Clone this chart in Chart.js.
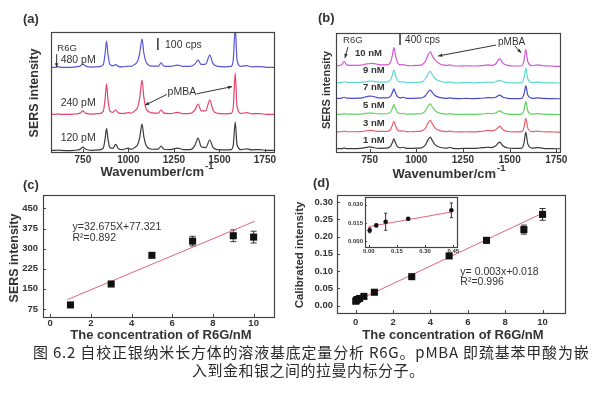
<!DOCTYPE html>
<html>
<head>
<meta charset="utf-8">
<script src="https://cdn.jsdelivr.net/npm/chart.js@4.4.1/dist/chart.umd.min.js"></script>
<style>
  body { margin: 0; background: #fff; width: 600px; height: 400px; position: relative; overflow: hidden; }
  canvas { position: absolute; }
  .cap { position: absolute; font-family: "Noto Sans CJK SC", sans-serif; font-size: 15px; color: #2a2a2a; white-space: nowrap; line-height: 20px; }
</style>
</head>
<body>
<canvas id="ca" width="300" height="178" style="left:0;top:0"></canvas>
<canvas id="cb" width="300" height="178" style="left:300px;top:0"></canvas>
<canvas id="cc" width="300" height="165" style="left:0;top:178px"></canvas>
<canvas id="cd" width="315" height="165" style="left:285px;top:178px"></canvas>
<canvas id="ce" width="125" height="65" style="left:340px;top:190px"></canvas>
<div class="cap" style="left:33px;top:342px;letter-spacing:0.8px">图 6.2 自校正银纳米长方体的溶液基底定量分析 R6G。pMBA 即巯基苯甲酸为嵌</div>
<div class="cap" style="left:192px;top:360px;letter-spacing:0.5px">入到金和银之间的拉曼内标分子。</div>
<script>
// wavenumber sampling shared by all spectra (cm-1)
const wn = [575, 600, 614, 628, 660, 700, 735, 750, 765, 800, 840, 862, 872, 880, 888, 898, 915, 930, 945, 970,
  1000, 1015, 1035, 1050, 1062, 1075, 1085, 1100, 1130, 1165, 1180, 1195, 1230, 1270, 1300, 1340, 1365, 1383, 1400,
  1425, 1447, 1465, 1490, 1530, 1565, 1577, 1587, 1597, 1620, 1650, 1680, 1720, 1760, 1800];
const wnTicks = [750, 1000, 1250, 1500, 1750];

// (a) intensities above each baseline, cps
const a120 = [6, 5, 8, 5, 4, 6, 14, 33, 15, 6, 10, 25, 100, 190, 100, 30, 22, 55, 20, 12,
  25, 14, 30, 50, 110, 225, 120, 40, 15, 16, 42, 15, 12, 25, 12, 12, 45, 108, 35,
  28, 92, 30, 12, 10, 12, 60, 242, 50, 12, 18, 10, 12, 6, 5];
const a240 = [8, 6, 10, 6, 5, 8, 16, 35, 16, 8, 12, 30, 130, 258, 130, 35, 22, 42, 18, 12,
  20, 15, 35, 60, 140, 292, 150, 45, 18, 16, 42, 16, 12, 22, 12, 14, 40, 92, 35,
  35, 125, 40, 14, 10, 14, 80, 350, 70, 14, 20, 10, 12, 6, 5];
const a480 = [5, 6, 12, 6, 6, 8, 16, 33, 16, 8, 12, 28, 115, 225, 115, 32, 18, 28, 14, 10,
  15, 14, 30, 55, 120, 242, 125, 42, 16, 16, 42, 16, 14, 24, 14, 14, 32, 67, 30,
  32, 108, 36, 14, 10, 14, 80, 340, 66, 14, 20, 10, 12, 6, 5];
const aNames = ['120 pM', '240 pM', '480 pM'];
const aOffsets = [8, 308, 700];

// (b) intensities above each baseline, cps
const b1 = [10, 15, 30, 15, 15, 25, 55, 70, 55, 25, 30, 90, 220, 340, 220, 90, 40, 60, 25, 20,
  30, 30, 60, 150, 300, 400, 300, 150, 50, 30, 60, 25, 15, 25, 20, 35, 50, 60, 50,
  100, 235, 100, 35, 20, 30, 200, 570, 180, 30, 50, 25, 15, 10, 10];
const b3 = [15, 20, 40, 20, 20, 25, 55, 70, 60, 30, 35, 95, 240, 370, 240, 95, 40, 55, 25, 20,
  30, 30, 60, 150, 300, 400, 300, 150, 50, 25, 45, 20, 15, 20, 15, 30, 45, 70, 50,
  90, 200, 90, 30, 15, 25, 170, 470, 150, 25, 40, 20, 15, 10, 10];
const b5 = [15, 20, 40, 20, 20, 25, 50, 60, 55, 30, 35, 90, 220, 340, 220, 90, 40, 50, 25, 20,
  30, 30, 55, 140, 280, 370, 280, 140, 50, 25, 40, 20, 15, 20, 15, 25, 35, 50, 40,
  60, 130, 60, 25, 15, 25, 160, 440, 140, 25, 40, 20, 15, 10, 10];
const b7 = [20, 30, 60, 30, 25, 30, 80, 100, 95, 40, 40, 90, 220, 340, 220, 90, 40, 60, 30, 20,
  30, 30, 50, 120, 230, 300, 230, 120, 45, 25, 40, 20, 15, 20, 15, 25, 35, 50, 40,
  60, 130, 60, 25, 15, 25, 160, 440, 140, 25, 40, 20, 15, 10, 10];
const b9 = [20, 30, 60, 30, 25, 30, 60, 70, 70, 40, 40, 110, 280, 440, 290, 110, 40, 50, 30, 20,
  30, 30, 60, 160, 300, 400, 300, 170, 60, 30, 50, 25, 15, 25, 15, 25, 30, 40, 30,
  50, 100, 50, 25, 15, 25, 180, 500, 160, 25, 40, 20, 15, 10, 10];
const b10 = [30, 60, 170, 60, 40, 50, 90, 100, 110, 70, 60, 150, 380, 640, 400, 160, 60, 70, 40, 30,
  40, 40, 80, 200, 380, 500, 380, 230, 80, 40, 60, 30, 20, 30, 20, 30, 40, 60, 40,
  90, 270, 110, 40, 20, 30, 200, 570, 180, 30, 60, 30, 20, 10, 10];
const bNames = ['1 nM', '3 nM', '5 nM', '7 nM', '9 nM', '10 nM'];
const bOffsets = [100, 660, 1250, 1780, 2310, 2870];

// (c) SERS intensity vs concentration
const cConc = [1, 3, 5, 7, 9, 10];
const cInt = [90, 168, 275, 328, 348, 343];
const cErr = [5, 5, 8, 18, 22, 22];
const cFitX = [0.85, 10.05];
const cFitY = [110, 402];
const cxTicks = [0, 2, 4, 6, 8, 10];
const cyTicks = [75, 150, 225, 300, 375, 450];

// (d) calibrated intensity vs concentration
const dConc = [0.005, 0.04, 0.09, 0.21, 0.44, 1, 3, 5, 7, 9, 10];
const dInt = [0.013, 0.016, 0.018, 0.021, 0.027, 0.039, 0.084, 0.144, 0.189, 0.220, 0.264];
const dErr = [0.003, 0.003, 0.003, 0.003, 0.003, 0.004, 0.003, 0.003, 0.007, 0.013, 0.017];
const dFitX = [0, 10.1];
const dFitY = [0.013, 0.27];
const dxTicks = [0, 2, 4, 6, 8, 10];
const dyTicks = [0, 0.05, 0.10, 0.15, 0.20, 0.25, 0.30];

// (d) inset, low concentrations
const eConc = [0.005, 0.04, 0.09, 0.21, 0.44];
const eInt = [0.009, 0.013, 0.016, 0.0185, 0.0254];
const eErr = [0.002, 0.001, 0.007, 0.001, 0.006];
const eFitX = [0, 0.44];
const eFitY = [0.012, 0.024];
const exTicks = [0, 0.15, 0.30, 0.45];
const eyTicks = [0, 0.015, 0.030];

Chart.defaults.font.family = '"Liberation Sans", Arial, sans-serif';
Chart.defaults.color = '#333';

const B = '"Liberation Sans", Arial, sans-serif';
const fixTicks = vals => s => { s.ticks = vals.map(v => ({ value: v })); };

// frame, inner ticks, error bars, labels and arrows
function decor(cfg) {
  return {
    id: 'decor',
    beforeDraw(chart) {
      if (!cfg.fill) return;
      const a = chart.chartArea, ctx = chart.ctx;
      ctx.save(); ctx.fillStyle = cfg.fill;
      ctx.fillRect(a.left, a.top, a.width, a.height);
      ctx.restore();
    },
    beforeDatasetsDraw(chart) {
      const ctx = chart.ctx, { x, y } = chart.scales;
      ctx.save();
      ctx.strokeStyle = '#333'; ctx.lineWidth = 1;
      chart.data.datasets.forEach(ds => {
        if (!ds.errs) return;
        ds.data.forEach((p, i) => {
          const px = x.getPixelForValue(p.x);
          const y1 = y.getPixelForValue(p.y - ds.errs[i]), y2 = y.getPixelForValue(p.y + ds.errs[i]);
          const c = cfg.cap || 2.5;
          ctx.beginPath();
          ctx.moveTo(px, y1); ctx.lineTo(px, y2);
          ctx.moveTo(px - c, y1); ctx.lineTo(px + c, y1);
          ctx.moveTo(px - c, y2); ctx.lineTo(px + c, y2);
          ctx.stroke();
        });
      });
      ctx.restore();
    },
    afterDraw(chart) {
      const ctx = chart.ctx, a = chart.chartArea, { x, y } = chart.scales;
      ctx.save();
      ctx.strokeStyle = '#444'; ctx.lineWidth = 1.2;
      ctx.strokeRect(Math.round(a.left) + 0.5, Math.round(a.top) + 0.5, Math.round(a.width), Math.round(a.height));
      ctx.lineWidth = 1;
      const tl = cfg.tick || 3;
      ctx.beginPath();
      x.ticks.forEach(t => {
        const px = Math.round(x.getPixelForValue(t.value)) + 0.5;
        ctx.moveTo(px, a.bottom); ctx.lineTo(px, a.bottom - tl);
      });
      if (y.options.display) {
        y.ticks.forEach(t => {
          const py = Math.round(y.getPixelForValue(t.value)) + 0.5;
          ctx.moveTo(a.left, py); ctx.lineTo(a.left + tl, py);
        });
      }
      ctx.stroke();

      (cfg.lines || []).forEach(l => {
        const x1 = x.getPixelForValue(l.x1), y1 = y.getPixelForValue(l.y1);
        const x2 = x.getPixelForValue(l.x2), y2 = y.getPixelForValue(l.y2);
        ctx.strokeStyle = '#333'; ctx.fillStyle = '#333'; ctx.lineWidth = l.w || 1;
        ctx.beginPath(); ctx.moveTo(x1, y1); ctx.lineTo(x2, y2); ctx.stroke();
        if (l.head) {
          const ang = Math.atan2(y2 - y1, x2 - x1), h = 4.5;
          ctx.beginPath();
          ctx.moveTo(x2, y2);
          ctx.lineTo(x2 - h * Math.cos(ang - 0.4), y2 - h * Math.sin(ang - 0.4));
          ctx.lineTo(x2 - h * Math.cos(ang + 0.4), y2 - h * Math.sin(ang + 0.4));
          ctx.closePath(); ctx.fill();
        }
      });

      (cfg.texts || []).forEach(t => {
        const X = t.px !== undefined ? t.px : x.getPixelForValue(t.x);
        const Y = t.py !== undefined ? t.py : y.getPixelForValue(t.y);
        ctx.save();
        ctx.translate(X, Y);
        if (t.rot) ctx.rotate(t.rot * Math.PI / 180);
        ctx.font = t.font;
        ctx.fillStyle = t.color || '#333';
        ctx.textBaseline = 'middle';
        ctx.textAlign = 'left';
        const w = ctx.measureText(t.t).width;
        let sw = 0;
        if (t.sup) { ctx.font = t.supFont; sw = ctx.measureText(t.sup).width + 1; ctx.font = t.font; }
        const x0 = t.align === 'center' ? -(w + sw) / 2 : 0;
        ctx.fillText(t.t, x0, 0);
        if (t.sup) { ctx.font = t.supFont; ctx.fillText(t.sup, x0 + w + 1, -6); }
        ctx.restore();
      });
      ctx.restore();
    }
  };
}

function spectrum(id, traces, offs, colors, xmin, xmax, ymax, pad, cfg) {
  return new Chart(document.getElementById(id), {
    type: 'line',
    data: {
      datasets: traces.map((tr, i) => ({
        data: wn.map((w, j) => ({ x: w, y: tr[j] + offs[i] })),
        borderColor: colors[i], borderWidth: 1.2, pointRadius: 0,
        cubicInterpolationMode: 'monotone', fill: false
      }))
    },
    options: {
      responsive: false, animation: false,
      layout: { padding: pad },
      plugins: { legend: { display: false }, tooltip: { enabled: false } },
      scales: {
        x: {
          type: 'linear', min: xmin, max: xmax,
          afterBuildTicks: fixTicks(wnTicks),
          afterFit: s => { s.height = 26; },
          border: { display: false }, grid: { display: false, drawTicks: false },
          ticks: { autoSkip: false, maxRotation: 0, padding: 2,
                   font: { size: 10, weight: 'bold' }, callback: v => v }
        },
        y: { display: false, min: 0, max: ymax }
      }
    },
    plugins: [decor(cfg)]
  });
}

// (a)
spectrum('ca', [a120, a240, a480], aOffsets, ['#3c3c3c', '#e2456b', '#5656d2'], 575, 1800, 1000,
  { left: 51, top: 32, right: 26, bottom: 0 }, {
    texts: [
      { t: '(a)', px: 23, py: 19, font: 'bold 13px ' + B },
      { t: 'SERS intensity', px: 35, py: 93, rot: -90, align: 'center', font: 'bold 12.5px ' + B },
      { t: 'Wavenumber/cm', px: 157, py: 172, align: 'center', font: 'bold 13px ' + B, sup: '-1', supFont: 'bold 9.5px ' + B },
      { t: 'R6G', x: 610, y: 866, font: '9.5px ' + B },
      { t: aNames[2], x: 628, y: 766, font: '10.5px ' + B },
      { t: aNames[1], x: 628, y: 408, font: '10.5px ' + B },
      { t: aNames[0], x: 628, y: 117, font: '10.5px ' + B },
      { t: '100 cps', x: 1201, y: 891, font: '10.5px ' + B },
      { t: 'pMBA', x: 1294, y: 500, align: 'center', font: '10.5px ' + B }
    ],
    lines: [
      { x1: 606, y1: 815, x2: 606, y2: 705, head: true },
      { x1: 1162, y1: 850, x2: 1162, y2: 950, w: 1.5 },
      { x1: 1212, y1: 480, x2: 1091, y2: 390, head: true },
      { x1: 1375, y1: 485, x2: 1570, y2: 545, head: true }
    ]
  });

// (b)
spectrum('cb', [b1, b3, b5, b7, b9, b10], bOffsets,
  ['#3c3c3c', '#e35f6c', '#5fd35f', '#4a4ac8', '#5fd9cf', '#d356d3'], 570, 1770, 4000,
  { left: 36, top: 33, right: 40, bottom: 0 }, {
    texts: [
      { t: '(b)', px: 18, py: 18, font: 'bold 13px ' + B },
      { t: 'SERS intensity', px: 27, py: 90, rot: -90, align: 'center', font: 'bold 11px ' + B },
      { t: 'Wavenumber/cm', px: 149, py: 174, align: 'center', font: 'bold 13px ' + B, sup: '-1', supFont: 'bold 9.5px ' + B },
      { t: 'R6G', x: 608, y: 3763, font: '9.5px ' + B },
      { t: bNames[5], x: 672, y: 3326, font: 'bold 9.5px ' + B },
      { t: bNames[4], x: 715, y: 2755, font: 'bold 9.5px ' + B },
      { t: bNames[3], x: 715, y: 2184, font: 'bold 9.5px ' + B },
      { t: bNames[2], x: 715, y: 1579, font: 'bold 9.5px ' + B },
      { t: bNames[1], x: 715, y: 974, font: 'bold 9.5px ' + B },
      { t: bNames[0], x: 715, y: 403, font: 'bold 9.5px ' + B },
      { t: '400 cps', x: 940, y: 3763, font: '10px ' + B },
      { t: 'pMBA', x: 1438, y: 3696, font: '10px ' + B }
    ],
    lines: [
      { x1: 634, y1: 3528, x2: 618, y2: 3158, head: true },
      { x1: 913, y1: 3600, x2: 913, y2: 4000, w: 1.5 },
      { x1: 1428, y1: 3595, x2: 1117, y2: 3226, head: true },
      { x1: 1529, y1: 3562, x2: 1562, y2: 3326, head: true }
    ]
  });

function scatterChart(id, X, Y, E, FX, FY, o) {
  return new Chart(document.getElementById(id), {
    type: 'scatter',
    data: {
      datasets: [
        { data: X.map((v, i) => ({ x: v, y: Y[i] })), errs: E, pointStyle: o.pointStyle || 'rect',
          pointRadius: o.r, backgroundColor: '#111', borderWidth: 0 },
        { data: FX.map((v, i) => ({ x: v, y: FY[i] })), showLine: true, pointRadius: 0,
          borderColor: '#e0647a', borderWidth: 1 }
      ]
    },
    options: {
      responsive: false, animation: false,
      layout: { padding: o.pad },
      plugins: { legend: { display: false }, tooltip: { enabled: false } },
      scales: {
        x: {
          type: 'linear', min: o.x[0], max: o.x[1],
          afterBuildTicks: fixTicks(o.xt),
          afterFit: s => { s.height = o.xh; },
          border: { display: false }, grid: { display: false, drawTicks: false },
          ticks: { autoSkip: false, maxRotation: 0, padding: o.xpad,
                   font: { size: o.fs, weight: 'bold' }, callback: o.xfmt }
        },
        y: {
          min: o.y[0], max: o.y[1],
          afterBuildTicks: fixTicks(o.yt),
          afterFit: s => { s.width = o.yw; },
          border: { display: false }, grid: { display: false, drawTicks: false },
          ticks: { autoSkip: false, padding: o.ypad,
                   font: { size: o.fs, weight: 'bold' }, callback: o.yfmt }
        }
      }
    },
    plugins: [decor(o.cfg)]
  });
}

// (c)
scatterChart('cc', cConc, cInt, cErr, cFitX, cFitY, {
  r: 5, pad: { left: 0, top: 17, right: 26, bottom: 0 }, xh: 26, yw: 43,
  x: [-0.35, 11], y: [45, 500], xt: cxTicks, yt: cyTicks, xpad: 1, ypad: 5, fs: 9.5,
  xfmt: v => v, yfmt: v => v,
  cfg: {
    cap: 3,
    texts: [
      { t: '(c)', px: 23, py: 7, font: 'bold 13px ' + B },
      { t: 'SERS intensity', px: 15, py: 80, rot: -90, align: 'center', font: 'bold 12.5px ' + B },
      { t: 'The concentration of R6G/nM', px: 161, py: 157, align: 'center', font: 'bold 13px ' + B },
      { t: 'y=32.675X+77.321', x: 1.1, y: 380, font: '10.5px ' + B },
      { t: 'R\u00b2=0.892', x: 1.1, y: 340, font: '10.5px ' + B }
    ]
  }
});

// (d)
scatterChart('cd', dConc, dInt, dErr, dFitX, dFitY, {
  r: 5, pad: { left: 0, top: 17, right: 35, bottom: 0 }, xh: 30, yw: 52,
  x: [-1.0, 11.2], y: [-0.021, 0.32], xt: dxTicks, yt: dyTicks, xpad: 4, ypad: 4, fs: 9.5,
  xfmt: v => v, yfmt: v => v.toFixed(2),
  cfg: {
    cap: 3,
    texts: [
      { t: '(d)', px: 28, py: 5, font: 'bold 13px ' + B },
      { t: 'Calibrated intensity', px: 15, py: 77, rot: -90, align: 'center', font: 'bold 11.5px ' + B },
      { t: 'The concentration of R6G/nM', px: 168, py: 157, align: 'center', font: 'bold 13px ' + B },
      { t: 'y= 0.003x+0.018', x: 5.6, y: 0.0975, font: '10.5px ' + B },
      { t: 'R\u00b2=0.996', x: 5.6, y: 0.067, font: '10.5px ' + B }
    ]
  }
});

// (d) inset
scatterChart('ce', eConc, eInt, eErr, eFitX, eFitY, {
  r: 2.3, pointStyle: 'circle', pad: { left: 0, top: 7, right: 8, bottom: 0 }, xh: 8, yw: 25,
  x: [-0.02, 0.47], y: [-0.0047, 0.0363], xt: exTicks, yt: eyTicks, xpad: 1, ypad: 2, fs: 6,
  xfmt: v => v.toFixed(2), yfmt: v => v.toFixed(3),
  cfg: { fill: '#fff', cap: 1.5, tick: 2 }
});
</script>
</body>
</html>
